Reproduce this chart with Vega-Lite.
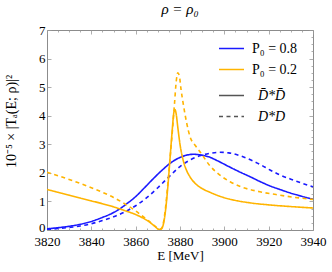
{
  "$schema": "https://vega.github.io/schema/vega-lite/v6.json",
  "width": 266,
  "height": 200,
  "autosize": "none",
  "padding": {"left": 47, "top": 30, "right": 19, "bottom": 42},
  "background": "white",
  "title": {"text": "ρ = ρ₀", "font": "Liberation Serif", "fontSize": 15, "fontWeight": "normal", "fontStyle": "italic", "color": "#000", "anchor": "middle", "offset": 7},
  "config": {
    "view": {"stroke": "#8c8c8c", "strokeWidth": 1},
    "axis": {"labelFont": "Liberation Serif", "titleFont": "Liberation Serif", "labelColor": "#000", "titleColor": "#000", "grid": false, "domain": false, "tickColor": "#999", "tickWidth": 0.8},
    "legend": {"labelFont": "Liberation Serif"}
  },
  "data": {"values": [
    {"E":3820,"v":0.04,"P":"P₀ = 0.8","ch":"D̄*D̄"},{"E":3825,"v":0.08,"P":"P₀ = 0.8","ch":"D̄*D̄"},{"E":3830,"v":0.13,"P":"P₀ = 0.8","ch":"D̄*D̄"},{"E":3835,"v":0.2,"P":"P₀ = 0.8","ch":"D̄*D̄"},{"E":3840,"v":0.3,"P":"P₀ = 0.8","ch":"D̄*D̄"},{"E":3845,"v":0.44,"P":"P₀ = 0.8","ch":"D̄*D̄"},{"E":3850,"v":0.61,"P":"P₀ = 0.8","ch":"D̄*D̄"},{"E":3853,"v":0.75,"P":"P₀ = 0.8","ch":"D̄*D̄"},{"E":3856,"v":0.92,"P":"P₀ = 0.8","ch":"D̄*D̄"},{"E":3860,"v":1.17,"P":"P₀ = 0.8","ch":"D̄*D̄"},{"E":3864,"v":1.48,"P":"P₀ = 0.8","ch":"D̄*D̄"},{"E":3868,"v":1.8,"P":"P₀ = 0.8","ch":"D̄*D̄"},{"E":3872,"v":2.1,"P":"P₀ = 0.8","ch":"D̄*D̄"},{"E":3876,"v":2.36,"P":"P₀ = 0.8","ch":"D̄*D̄"},{"E":3880,"v":2.54,"P":"P₀ = 0.8","ch":"D̄*D̄"},{"E":3883,"v":2.62,"P":"P₀ = 0.8","ch":"D̄*D̄"},{"E":3886,"v":2.65,"P":"P₀ = 0.8","ch":"D̄*D̄"},{"E":3889,"v":2.63,"P":"P₀ = 0.8","ch":"D̄*D̄"},{"E":3893,"v":2.56,"P":"P₀ = 0.8","ch":"D̄*D̄"},{"E":3897,"v":2.42,"P":"P₀ = 0.8","ch":"D̄*D̄"},{"E":3902,"v":2.22,"P":"P₀ = 0.8","ch":"D̄*D̄"},{"E":3907,"v":2.03,"P":"P₀ = 0.8","ch":"D̄*D̄"},{"E":3912,"v":1.85,"P":"P₀ = 0.8","ch":"D̄*D̄"},{"E":3916,"v":1.7,"P":"P₀ = 0.8","ch":"D̄*D̄"},{"E":3921,"v":1.53,"P":"P₀ = 0.8","ch":"D̄*D̄"},{"E":3925,"v":1.42,"P":"P₀ = 0.8","ch":"D̄*D̄"},{"E":3930,"v":1.29,"P":"P₀ = 0.8","ch":"D̄*D̄"},{"E":3935,"v":1.18,"P":"P₀ = 0.8","ch":"D̄*D̄"},{"E":3940,"v":1.08,"P":"P₀ = 0.8","ch":"D̄*D̄"},

    {"E":3820,"v":0.02,"P":"P₀ = 0.8","ch":"D*D"},{"E":3825,"v":0.05,"P":"P₀ = 0.8","ch":"D*D"},{"E":3830,"v":0.09,"P":"P₀ = 0.8","ch":"D*D"},{"E":3835,"v":0.14,"P":"P₀ = 0.8","ch":"D*D"},{"E":3840,"v":0.22,"P":"P₀ = 0.8","ch":"D*D"},{"E":3845,"v":0.33,"P":"P₀ = 0.8","ch":"D*D"},{"E":3850,"v":0.46,"P":"P₀ = 0.8","ch":"D*D"},{"E":3855,"v":0.63,"P":"P₀ = 0.8","ch":"D*D"},{"E":3860,"v":0.85,"P":"P₀ = 0.8","ch":"D*D"},{"E":3865,"v":1.13,"P":"P₀ = 0.8","ch":"D*D"},{"E":3870,"v":1.48,"P":"P₀ = 0.8","ch":"D*D"},{"E":3875,"v":1.86,"P":"P₀ = 0.8","ch":"D*D"},{"E":3880,"v":2.22,"P":"P₀ = 0.8","ch":"D*D"},{"E":3885,"v":2.47,"P":"P₀ = 0.8","ch":"D*D"},{"E":3890,"v":2.62,"P":"P₀ = 0.8","ch":"D*D"},{"E":3894,"v":2.69,"P":"P₀ = 0.8","ch":"D*D"},{"E":3898,"v":2.72,"P":"P₀ = 0.8","ch":"D*D"},{"E":3902,"v":2.7,"P":"P₀ = 0.8","ch":"D*D"},{"E":3907,"v":2.6,"P":"P₀ = 0.8","ch":"D*D"},{"E":3912,"v":2.45,"P":"P₀ = 0.8","ch":"D*D"},{"E":3916,"v":2.3,"P":"P₀ = 0.8","ch":"D*D"},{"E":3920.6,"v":2.1,"P":"P₀ = 0.8","ch":"D*D"},{"E":3925,"v":1.93,"P":"P₀ = 0.8","ch":"D*D"},{"E":3930,"v":1.78,"P":"P₀ = 0.8","ch":"D*D"},{"E":3935,"v":1.64,"P":"P₀ = 0.8","ch":"D*D"},{"E":3940,"v":1.51,"P":"P₀ = 0.8","ch":"D*D"},

    {"E":3820,"v":1.42,"P":"P₀ = 0.2","ch":"D̄*D̄"},{"E":3825,"v":1.32,"P":"P₀ = 0.2","ch":"D̄*D̄"},{"E":3830,"v":1.22,"P":"P₀ = 0.2","ch":"D̄*D̄"},{"E":3835,"v":1.12,"P":"P₀ = 0.2","ch":"D̄*D̄"},{"E":3840,"v":1.02,"P":"P₀ = 0.2","ch":"D̄*D̄"},{"E":3845,"v":0.92,"P":"P₀ = 0.2","ch":"D̄*D̄"},{"E":3850,"v":0.81,"P":"P₀ = 0.2","ch":"D̄*D̄"},{"E":3855,"v":0.68,"P":"P₀ = 0.2","ch":"D̄*D̄"},{"E":3860,"v":0.54,"P":"P₀ = 0.2","ch":"D̄*D̄"},{"E":3863,"v":0.43,"P":"P₀ = 0.2","ch":"D̄*D̄"},{"E":3866,"v":0.29,"P":"P₀ = 0.2","ch":"D̄*D̄"},{"E":3868,"v":0.17,"P":"P₀ = 0.2","ch":"D̄*D̄"},{"E":3869.5,"v":0.07,"P":"P₀ = 0.2","ch":"D̄*D̄"},{"E":3870.5,"v":0.01,"P":"P₀ = 0.2","ch":"D̄*D̄"},{"E":3871.5,"v":0.03,"P":"P₀ = 0.2","ch":"D̄*D̄"},{"E":3872.5,"v":0.2,"P":"P₀ = 0.2","ch":"D̄*D̄"},{"E":3873.5,"v":0.7,"P":"P₀ = 0.2","ch":"D̄*D̄"},{"E":3874.5,"v":1.5,"P":"P₀ = 0.2","ch":"D̄*D̄"},{"E":3875.5,"v":2.5,"P":"P₀ = 0.2","ch":"D̄*D̄"},{"E":3876.5,"v":3.5,"P":"P₀ = 0.2","ch":"D̄*D̄"},{"E":3877.2,"v":4.1,"P":"P₀ = 0.2","ch":"D̄*D̄"},{"E":3877.7,"v":4.22,"P":"P₀ = 0.2","ch":"D̄*D̄"},{"E":3878.3,"v":4.05,"P":"P₀ = 0.2","ch":"D̄*D̄"},{"E":3879,"v":3.6,"P":"P₀ = 0.2","ch":"D̄*D̄"},{"E":3880,"v":3.0,"P":"P₀ = 0.2","ch":"D̄*D̄"},{"E":3881.5,"v":2.42,"P":"P₀ = 0.2","ch":"D̄*D̄"},{"E":3883,"v":2.08,"P":"P₀ = 0.2","ch":"D̄*D̄"},{"E":3884.5,"v":1.86,"P":"P₀ = 0.2","ch":"D̄*D̄"},{"E":3887,"v":1.62,"P":"P₀ = 0.2","ch":"D̄*D̄"},{"E":3890,"v":1.45,"P":"P₀ = 0.2","ch":"D̄*D̄"},{"E":3893.5,"v":1.32,"P":"P₀ = 0.2","ch":"D̄*D̄"},{"E":3898,"v":1.18,"P":"P₀ = 0.2","ch":"D̄*D̄"},{"E":3903,"v":1.07,"P":"P₀ = 0.2","ch":"D̄*D̄"},{"E":3911.6,"v":0.95,"P":"P₀ = 0.2","ch":"D̄*D̄"},{"E":3920,"v":0.88,"P":"P₀ = 0.2","ch":"D̄*D̄"},{"E":3930,"v":0.82,"P":"P₀ = 0.2","ch":"D̄*D̄"},{"E":3940,"v":0.77,"P":"P₀ = 0.2","ch":"D̄*D̄"},

    {"E":3820,"v":2.02,"P":"P₀ = 0.2","ch":"D*D"},{"E":3825,"v":1.9,"P":"P₀ = 0.2","ch":"D*D"},{"E":3830,"v":1.77,"P":"P₀ = 0.2","ch":"D*D"},{"E":3835,"v":1.63,"P":"P₀ = 0.2","ch":"D*D"},{"E":3840,"v":1.48,"P":"P₀ = 0.2","ch":"D*D"},{"E":3845,"v":1.32,"P":"P₀ = 0.2","ch":"D*D"},{"E":3850,"v":1.14,"P":"P₀ = 0.2","ch":"D*D"},{"E":3855,"v":0.92,"P":"P₀ = 0.2","ch":"D*D"},{"E":3860,"v":0.67,"P":"P₀ = 0.2","ch":"D*D"},{"E":3863,"v":0.49,"P":"P₀ = 0.2","ch":"D*D"},{"E":3866,"v":0.31,"P":"P₀ = 0.2","ch":"D*D"},{"E":3868,"v":0.18,"P":"P₀ = 0.2","ch":"D*D"},{"E":3869.5,"v":0.08,"P":"P₀ = 0.2","ch":"D*D"},{"E":3870.5,"v":0.02,"P":"P₀ = 0.2","ch":"D*D"},{"E":3871.5,"v":0.05,"P":"P₀ = 0.2","ch":"D*D"},{"E":3872.5,"v":0.25,"P":"P₀ = 0.2","ch":"D*D"},{"E":3873.5,"v":0.8,"P":"P₀ = 0.2","ch":"D*D"},{"E":3874.5,"v":1.6,"P":"P₀ = 0.2","ch":"D*D"},{"E":3875.5,"v":2.5,"P":"P₀ = 0.2","ch":"D*D"},{"E":3876.5,"v":3.4,"P":"P₀ = 0.2","ch":"D*D"},{"E":3877.5,"v":4.4,"P":"P₀ = 0.2","ch":"D*D"},{"E":3878.3,"v":5.2,"P":"P₀ = 0.2","ch":"D*D"},{"E":3879,"v":5.5,"P":"P₀ = 0.2","ch":"D*D"},{"E":3879.7,"v":5.4,"P":"P₀ = 0.2","ch":"D*D"},{"E":3880.5,"v":4.9,"P":"P₀ = 0.2","ch":"D*D"},{"E":3881.5,"v":4.4,"P":"P₀ = 0.2","ch":"D*D"},{"E":3883,"v":3.75,"P":"P₀ = 0.2","ch":"D*D"},{"E":3884.5,"v":3.27,"P":"P₀ = 0.2","ch":"D*D"},{"E":3887,"v":2.95,"P":"P₀ = 0.2","ch":"D*D"},{"E":3889,"v":2.74,"P":"P₀ = 0.2","ch":"D*D"},{"E":3893.5,"v":2.25,"P":"P₀ = 0.2","ch":"D*D"},{"E":3898,"v":1.92,"P":"P₀ = 0.2","ch":"D*D"},{"E":3902.6,"v":1.69,"P":"P₀ = 0.2","ch":"D*D"},{"E":3908,"v":1.5,"P":"P₀ = 0.2","ch":"D*D"},{"E":3916,"v":1.34,"P":"P₀ = 0.2","ch":"D*D"},{"E":3925,"v":1.22,"P":"P₀ = 0.2","ch":"D*D"},{"E":3932,"v":1.14,"P":"P₀ = 0.2","ch":"D*D"},{"E":3940,"v":1.07,"P":"P₀ = 0.2","ch":"D*D"}
  ]},
  "resolve": {"axis": {"x": "independent", "y": "independent"}},
  "layer": [
    {
      "mark": {"type": "line", "strokeWidth": 1.6, "interpolate": "monotone", "clip": true},
      "encoding": {
        "x": {"field": "E", "type": "quantitative", "scale": {"domain": [3820, 3940], "nice": false, "zero": false},
          "axis": {"orient": "bottom", "values": [3820,3825,3830,3835,3840,3845,3850,3855,3860,3865,3870,3875,3880,3885,3890,3895,3900,3905,3910,3915,3920,3925,3930,3935,3940],
            "format": "d", "labelExpr": "datum.value % 20 === 0 ? datum.label : ''", "labelFont": "Liberation Serif", "labelFontSize": 13, "labelPadding": 9, "labelFlush": false,
            "tickSize": {"condition": {"test": "datum.value % 20 === 0", "value": -4}, "value": -2},
            "title": "E [MeV]", "titleFont": "Liberation Serif", "titleFontSize": 13, "titleFontWeight": "normal", "titlePadding": 1}},
        "y": {"field": "v", "type": "quantitative", "scale": {"domain": [0, 7], "nice": false},
          "axis": {"orient": "left", "values": [0,0.25,0.5,0.75,1,1.25,1.5,1.75,2,2.25,2.5,2.75,3,3.25,3.5,3.75,4,4.25,4.5,4.75,5,5.25,5.5,5.75,6,6.25,6.5,6.75,7],
            "format": "d", "labelExpr": "datum.value % 1 === 0 ? datum.label : ''", "labelFont": "Liberation Serif", "labelFontSize": 13, "labelPadding": 6, "labelFlush": false,
            "labelOffset": {"condition": {"test": "datum.value === 0", "value": -3}, "value": 0},
            "tickSize": {"condition": {"test": "datum.value % 1 === 0", "value": -4}, "value": -2},
            "title": "10⁻⁵ × |Tₐ(E; ρ)|²", "titleFont": "Liberation Serif", "titleFontSize": 14, "titleFontWeight": "normal", "titleX": -29, "titleY": 91, "titleAngle": -90}},
        "color": {"field": "P", "type": "nominal", "scale": {"domain": ["P₀ = 0.8", "P₀ = 0.2"], "range": ["#1a1aff", "#ffb400"]},
          "legend": {"orient": "none", "legendX": 171, "legendY": 5, "title": null, "symbolType": "stroke", "symbolSize": 625, "symbolStrokeWidth": 1.5, "labelFont": "Liberation Serif", "labelFontSize": 14, "labelColor": "#000", "rowPadding": -9, "labelOffset": 7}},
        "strokeDash": {"field": "ch", "type": "nominal", "scale": {"domain": ["D̄*D̄", "D*D"], "range": [[1, 0], [4, 3.5]]},
          "legend": {"orient": "none", "legendX": 171, "legendY": 52, "title": null, "symbolType": "stroke", "symbolSize": 625, "symbolStrokeWidth": 1.5, "symbolStrokeColor": "#555", "labelFont": "Liberation Serif", "labelFontSize": 14, "labelFontStyle": "italic", "labelColor": "#000", "rowPadding": -9, "labelOffset": 13}}
      }
    },
    {
      "mark": {"type": "line", "opacity": 0},
      "encoding": {
        "x": {"field": "E", "type": "quantitative", "scale": {"domain": [3820, 3940], "nice": false, "zero": false},
          "axis": {"orient": "top", "values": [3820,3825,3830,3835,3840,3845,3850,3855,3860,3865,3870,3875,3880,3885,3890,3895,3900,3905,3910,3915,3920,3925,3930,3935,3940],
            "labels": false, "title": null,
            "tickSize": {"condition": {"test": "datum.value % 20 === 0", "value": -4}, "value": -2}}},
        "y": {"field": "v", "type": "quantitative", "scale": {"domain": [0, 7], "nice": false},
          "axis": {"orient": "right", "values": [0,0.25,0.5,0.75,1,1.25,1.5,1.75,2,2.25,2.5,2.75,3,3.25,3.5,3.75,4,4.25,4.5,4.75,5,5.25,5.5,5.75,6,6.25,6.5,6.75,7],
            "labels": false, "title": null,
            "tickSize": {"condition": {"test": "datum.value % 1 === 0", "value": -4}, "value": -2}}},
        "detail": {"field": "P"}
      }
    }
  ]
}
